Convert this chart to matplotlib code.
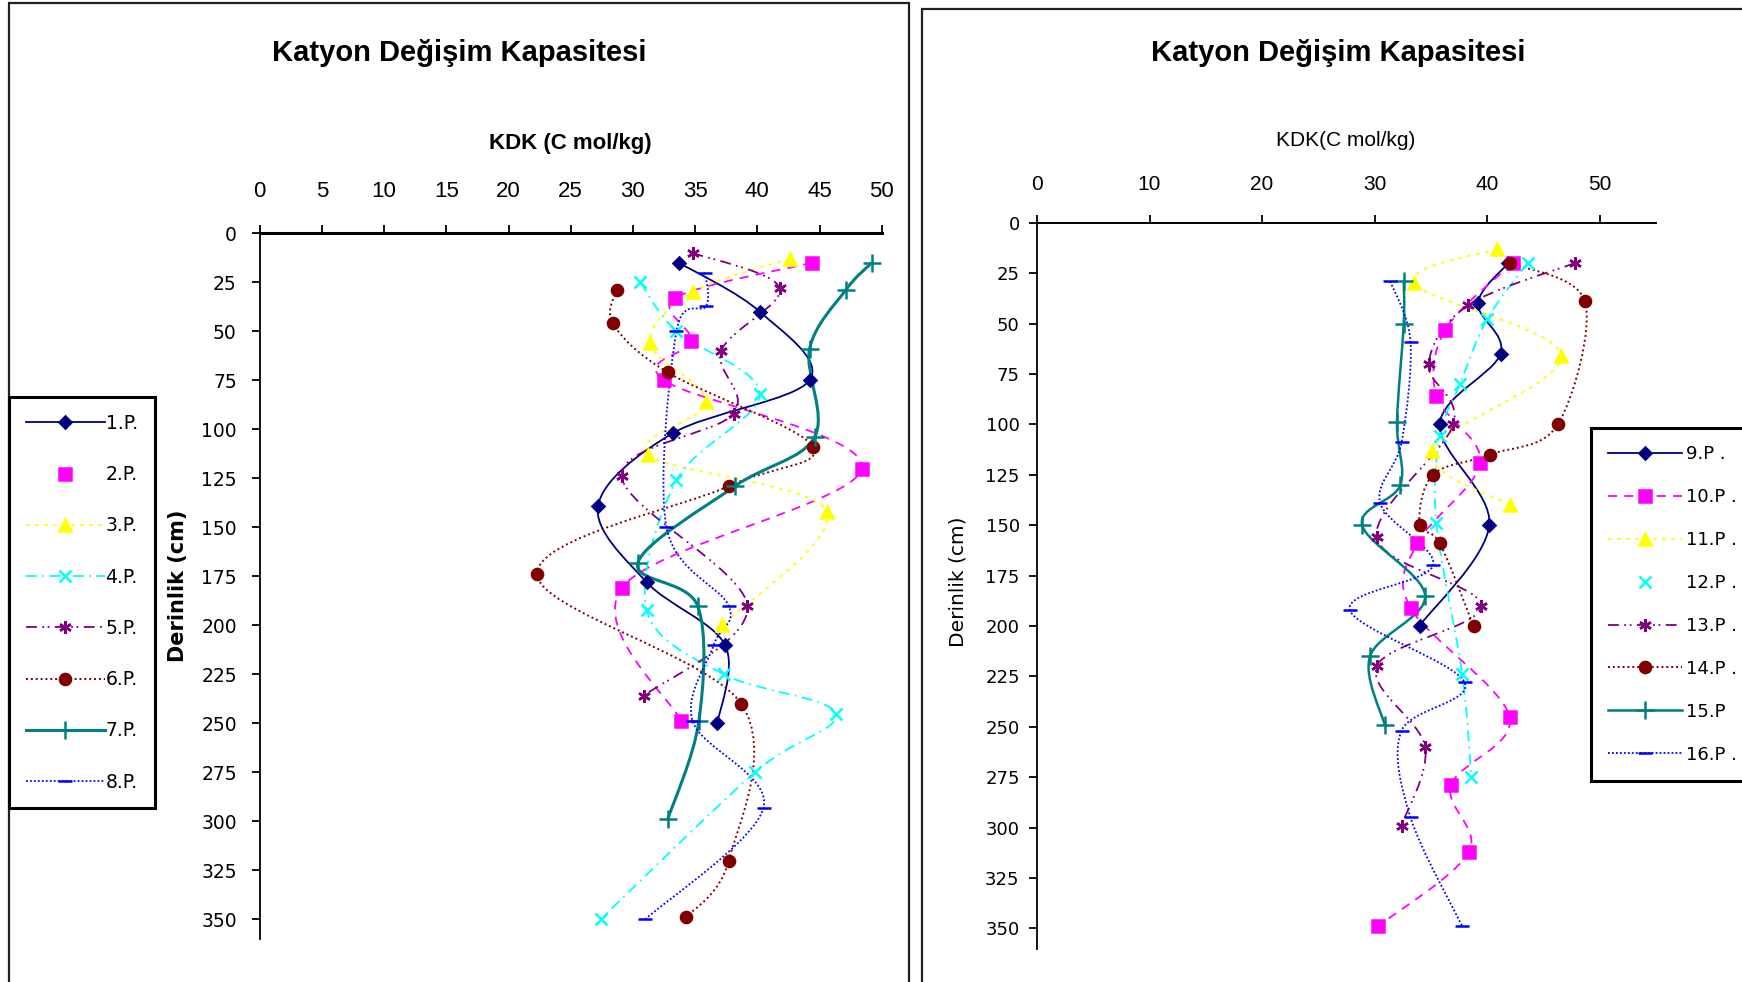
"""
Katyon Degisim Kapasitesi - two depth profile charts side by side.
"""

import numpy as np
import matplotlib
matplotlib.use("Agg")
import matplotlib.pyplot as plt
from matplotlib.path import Path
from matplotlib.patches import PathPatch, Rectangle
from matplotlib.lines import Line2D

# ---- data (depth in cm, KDK in C mol/kg) ----
title = "Katyon Değişim Kapasitesi"

p1_depth = [15, 40, 75, 102, 139, 178, 210, 250]
p1_kdk = [33.7, 40.2, 44.2, 33.2, 27.2, 31.1, 37.4, 36.8]
p2_depth = [15, 33, 55, 75, 120, 181, 249]
p2_kdk = [44.4, 33.4, 34.7, 32.5, 48.4, 29.1, 33.9]
p3_depth = [13, 30, 56, 86, 113, 142, 200]
p3_kdk = [42.6, 34.8, 31.4, 35.9, 31.2, 45.6, 37.2]
p4_depth = [25, 50, 82, 126, 192, 225, 245, 275, 350]
p4_kdk = [30.6, 33.5, 40.2, 33.5, 31.1, 37.3, 46.3, 39.8, 27.4]
p5_depth = [10, 28, 60, 92, 124, 190, 236]
p5_kdk = [34.8, 41.8, 37.1, 38.1, 29.1, 39.2, 30.9]
p6_depth = [29, 46, 71, 109, 129, 174, 240, 320, 349]
p6_kdk = [28.7, 28.4, 32.8, 44.5, 37.7, 22.3, 38.7, 37.7, 34.3]
p7_depth = [15, 29, 59, 104, 129, 168, 190, 249, 299]
p7_kdk = [49.2, 47.1, 44.2, 44.6, 38.2, 30.4, 35.2, 35.3, 32.8]
p8_depth = [20, 37, 50, 150, 190, 210, 249, 293, 350]
p8_kdk = [35.8, 35.9, 33.5, 32.7, 37.7, 36.5, 34.8, 40.5, 31.0]

p9_depth = [20, 40, 65, 100, 150, 200]
p9_kdk = [41.9, 39.2, 41.2, 35.8, 40.2, 34.0]
p10_depth = [20, 53, 86, 119, 159, 191, 245, 279, 312, 349]
p10_kdk = [42.3, 36.3, 35.5, 39.4, 33.8, 33.2, 42.0, 36.8, 38.4, 30.3]
p11_depth = [13, 30, 66, 113, 140]
p11_kdk = [40.9, 33.5, 46.6, 35.1, 42.0]
p12_depth = [20, 48, 80, 106, 149, 224, 275]
p12_kdk = [43.6, 40.0, 37.6, 35.8, 35.5, 37.8, 38.6]
p13_depth = [20, 41, 70, 100, 156, 190, 220, 260, 299]
p13_kdk = [47.8, 38.3, 34.8, 37.0, 30.2, 39.5, 30.2, 34.5, 32.4]
p14_depth = [20, 39, 100, 115, 125, 150, 159, 200]
p14_kdk = [42.0, 48.7, 46.3, 40.3, 35.2, 34.0, 35.8, 38.8]
p15_depth = [29, 50, 99, 130, 150, 185, 215, 249]
p15_kdk = [32.6, 32.6, 32.0, 32.3, 28.9, 34.5, 29.6, 30.9]
p16_depth = [29, 59, 109, 139, 170, 192, 228, 252, 295, 349]
p16_kdk = [31.4, 33.2, 32.4, 30.5, 35.2, 27.8, 38.0, 32.4, 33.2, 37.8]

left_labels = ["1.P.", "2.P.", "3.P.", "4.P.", "5.P.", "6.P.", "7.P.", "8.P."]
right_labels = ["9.P .", "10.P .", "11.P .", "12.P .", "13.P .", "14.P .", "15.P", "16.P ."]

depth_ticks = list(range(0, 351, 25))
left_xticks = list(range(0, 51, 5))
right_xticks = list(range(0, 51, 10))

# Excel default series styles: color, marker, size, dash pattern, legend shows line
styles = [
    dict(color="#000080", marker="D", ms=6.5, ls="-", lw=1.3, legend_line=True),
    dict(color="#FF00FF", marker="s", ms=8, ls=(0, (5, 4)), lw=1.3, legend_line=False),
    dict(color="#FFFF00", marker="^", ms=9, ls=(0, (2, 3)), lw=1.3, legend_line=True),
    dict(color="#00FFFF", marker="x", ms=8, ls=(0, (6, 3, 1, 3)), lw=1.3, legend_line=True),
    dict(color="#800080", marker=(6, 2, 0), ms=9, ls=(0, (6, 3, 1, 2, 1, 3)), lw=1.3, legend_line=True),
    dict(color="#800000", marker="o", ms=8, ls=(0, (1, 1.5)), lw=1.4, legend_line=True),
    dict(color="#008080", marker="+", ms=13, ls="-", lw=2.2, legend_line=True),
    dict(color="#0000FF", marker="_", ms=10, ls=(0, (1, 1.2)), lw=1.3, legend_line=True),
]
right_styles = [dict(s) for s in styles]
right_styles[1]["legend_line"] = True
right_styles[3]["legend_line"] = False
right_styles[6]["lw"] = 1.8

W, H = 1742, 982


def fx(px):
    return px / W


def fy(py):
    return 1 - py / H


def smooth_path(x, y):
    """Excel-like smoothed line: cubic Bezier through every point."""
    pts = np.column_stack([x, y]).astype(float)
    n = len(pts)
    verts = [pts[0]]
    codes = [Path.MOVETO]
    for i in range(n - 1):
        p0 = pts[i - 1] if i > 0 else pts[i]
        p1 = pts[i]
        p2 = pts[i + 1]
        p3 = pts[i + 2] if i + 2 < n else pts[i + 1]
        verts += [p1 + (p2 - p0) / 6, p2 - (p3 - p1) / 6, p2]
        codes += [Path.CURVE4] * 3
    return Path(verts, codes)


def draw_series(ax, kdk, depth, st):
    patch = PathPatch(smooth_path(kdk, depth), fill=False, edgecolor=st["color"],
                      linewidth=st["lw"], linestyle=st["ls"], zorder=2)
    ax.add_patch(patch)
    ax.plot(kdk, depth, linestyle="none", marker=st["marker"], ms=st["ms"],
            color=st["color"], mec=st["color"], mfc=st["color"], mew=1.8, zorder=3)


def legend_handles(style_list):
    hs = []
    for st in style_list:
        hs.append(Line2D([], [], color=st["color"], lw=st["lw"],
                         linestyle=st["ls"] if st["legend_line"] else "none",
                         marker=st["marker"], ms=st["ms"], mfc=st["color"],
                         mec=st["color"], mew=1.8))
    return hs


def setup_axis(ax, xmax, xticks, xlabelsize, ylabelsize, xpad, ypad, top_lw):
    ax.set_xlim(0, xmax)
    ax.set_ylim(360, 0)
    ax.set_xticks(xticks)
    ax.set_yticks(depth_ticks)
    ax.xaxis.tick_top()
    for side in ["right", "bottom"]:
        ax.spines[side].set_visible(False)
    ax.spines["top"].set_linewidth(top_lw)
    ax.spines["left"].set_linewidth(1.3)
    ax.tick_params(axis="x", direction="out", length=5.5, width=1.3, pad=xpad,
                   labelsize=xlabelsize)
    ax.tick_params(axis="y", direction="out", length=5.5, width=1.3, pad=ypad,
                   labelsize=ylabelsize)
    for lab in ax.get_xticklabels():
        lab.set_family("Liberation Sans")
    for lab in ax.get_yticklabels():
        lab.set_family("DejaVu Sans")
    ax.set_facecolor("none")


fig = plt.figure(figsize=(W / 100, H / 100), dpi=100)

# chart frames
fig.add_artist(Rectangle((fx(9), fy(1000)), (909 - 9) / W, (1000 - 3) / H,
                         transform=fig.transFigure, fill=False, ec="#202020", lw=1.6))
fig.add_artist(Rectangle((fx(922), fy(1000)), (1760 - 922) / W, (1000 - 9) / H,
                         transform=fig.transFigure, fill=False, ec="#202020", lw=1.6))

# ---- left chart ----
ax1 = fig.add_axes([fx(259.7), fy(938.9), (881.7 - 259.7) / W, (938.9 - 233.3) / H])
left_data = [(p1_kdk, p1_depth), (p2_kdk, p2_depth), (p3_kdk, p3_depth), (p4_kdk, p4_depth),
             (p5_kdk, p5_depth), (p6_kdk, p6_depth), (p7_kdk, p7_depth), (p8_kdk, p8_depth)]
for (k, d), st in zip(left_data, styles):
    draw_series(ax1, k, d, st)
setup_axis(ax1, 50, left_xticks, 16, 13.5, 17, 11, 2.2)

fig.text(fx(459), fy(53), title, ha="center", va="center", family="Liberation Sans",
         weight="bold", size=21)
fig.text(fx(570), fy(144), "KDK (C mol/kg)", ha="center", va="center",
         family="Liberation Sans", weight="bold", size=16)
fig.text(fx(178), fy(586), "Derinlik (cm)", ha="center", va="center", rotation=90,
         family="DejaVu Sans", weight="bold", size=15)

fig.legend(legend_handles(styles), left_labels, loc="upper left",
           bbox_to_anchor=(fx(9), fy(397)), bbox_transform=fig.transFigure,
           prop=dict(family="DejaVu Sans", size=13.5), frameon=True, fancybox=False,
           edgecolor="black", framealpha=1, borderpad=0.9, labelspacing=1.72,
           handlelength=4.2, handletextpad=0.05, borderaxespad=0).get_frame().set_linewidth(2.2)

# ---- right chart ----
ax2 = fig.add_axes([fx(1037), fy(948.5), (1655.75 - 1037) / W, (948.5 - 222.7) / H])
right_data = [(p9_kdk, p9_depth), (p10_kdk, p10_depth), (p11_kdk, p11_depth),
              (p12_kdk, p12_depth), (p13_kdk, p13_depth), (p14_kdk, p14_depth),
              (p15_kdk, p15_depth), (p16_kdk, p16_depth)]
for (k, d), st in zip(right_data, right_styles):
    draw_series(ax2, k, d, st)
setup_axis(ax2, 55, right_xticks, 15, 13, 15, 7, 1.4)

fig.text(fx(1338), fy(53), title, ha="center", va="center", family="Liberation Sans",
         weight="bold", size=21)
fig.text(fx(1346), fy(141), "KDK(C mol/kg)", ha="center", va="center",
         family="Liberation Sans", size=15)
fig.text(fx(958), fy(582), "Derinlik (cm)", ha="center", va="center", rotation=90,
         family="DejaVu Sans", size=14.5)

fig.legend(legend_handles(right_styles), right_labels, loc="upper left",
           bbox_to_anchor=(fx(1591), fy(428)), bbox_transform=fig.transFigure,
           prop=dict(family="DejaVu Sans", size=13), frameon=True, fancybox=False,
           edgecolor="black", framealpha=1, borderpad=0.95, labelspacing=1.38,
           handlelength=4.1, handletextpad=0.2, borderaxespad=0).get_frame().set_linewidth(2.2)

fig.savefig("out.png", dpi=100)
